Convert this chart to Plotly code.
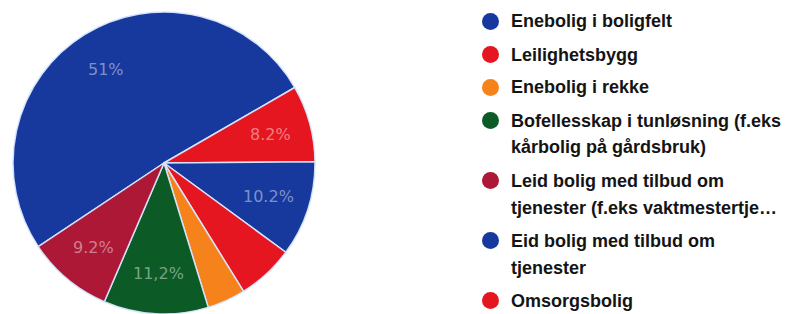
import math
import plotly.graph_objects as go

# The page body adds an 8px margin, so the figure is sized to fit the window
OFF = 8
W, H = 792 - OFF, 314 - OFF

# Legend order
categories = [
    "Enebolig i boligfelt",
    "Leilighetsbygg",
    "Enebolig i rekke",
    "Bofellesskap i tunløsning (f.eks kårbolig på gårdsbruk)",
    "Leid bolig med tilbud om tjenester (f.eks vaktmestertjeneste)",
    "Eid bolig med tilbud om tjenester",
    "Omsorgsbolig",
]
legend_lines = [
    ["Enebolig i boligfelt"],
    ["Leilighetsbygg"],
    ["Enebolig i rekke"],
    ["Bofellesskap i tunløsning (f.eks", "kårbolig på gårdsbruk)"],
    ["Leid bolig med tilbud om", "tjenester (f.eks vaktmestertje…"],
    ["Eid bolig med tilbud om", "tjenester"],
    ["Omsorgsbolig"],
]
shares = [51.0, 8.2, 4.1, 11.2, 9.2, 10.2, 6.1]
pct_labels = ["51%", "8.2%", "", "11,2%", "9.2%", "10.2%", ""]
colors = ["#17399e", "#e5161f", "#f5821b", "#0c5a25", "#ac1836", "#17399e", "#e5161f"]

# clockwise arrangement of slices in the pie
slice_order = [0, 1, 5, 6, 2, 3, 4]

# pie geometry (figure pixels)
cx, cy, R = 164 - OFF, 163 - OFF, 151
rotation = 236.4

fig = go.Figure()
fig.add_trace(go.Pie(
    labels=[categories[i] for i in slice_order],
    values=[shares[i] for i in slice_order],
    marker=dict(colors=[colors[i] for i in slice_order],
                line=dict(color="rgba(215,230,255,0.95)", width=1.5)),
    textinfo="none",
    sort=False,
    direction="clockwise",
    rotation=rotation,
    showlegend=False,
    hoverinfo="label+percent",
    domain=dict(x=[(cx - R) / W, (cx + R) / W], y=[0, 2 * R / H]),
))

annotations, shapes = [], []

# percentage labels at ~0.73 R along each slice's mid-angle
total = sum(shares)
acc = 0.0
for i in slice_order:
    mid = rotation + 360.0 * (acc + shares[i] / 2) / total
    acc += shares[i]
    if not pct_labels[i]:
        continue
    a = math.radians(mid)
    px = cx + 0.73 * R * math.sin(a)
    py = cy - 0.73 * R * math.cos(a)
    annotations.append(dict(
        text=pct_labels[i], xref="paper", yref="paper",
        x=px / W, y=1 - py / H, xanchor="center", yanchor="middle",
        showarrow=False,
        font=dict(family="DejaVu Sans, Arial", size=16, color="rgba(255,255,255,0.45)"),
    ))

# Manual legend (circles + bold text lines)
y0, item_pitch, wrap_pitch = 21.5 - OFF, 33.0, 27.0
circle_x, text_x, rad = 490.5 - OFF, 509 - OFF, 8.5
wraps = 0
for k, lines in enumerate(legend_lines):
    y_first = y0 + k * item_pitch + wraps * wrap_pitch
    shapes.append(dict(
        type="circle", xref="paper", yref="paper",
        xsizemode="pixel", ysizemode="pixel",
        xanchor=circle_x / W, yanchor=1 - y_first / H,
        x0=-rad, x1=rad, y0=-rad, y1=rad,
        fillcolor=colors[k], line=dict(width=0),
    ))
    for j, line in enumerate(lines):
        yy = y_first + j * wrap_pitch
        annotations.append(dict(
            text=line, xref="paper", yref="paper",
            x=text_x / W, y=1 - yy / H, xanchor="left", yanchor="middle",
            showarrow=False,
            font=dict(family="Liberation Sans, Arial", size=18, color="#141414", weight="bold"),
        ))
    wraps += len(lines) - 1

fig.update_layout(
    width=W, height=H,
    margin=dict(l=0, r=0, t=0, b=0),
    paper_bgcolor="white", plot_bgcolor="white",
    annotations=annotations, shapes=shapes,
)

fig.write_html("out.html")
